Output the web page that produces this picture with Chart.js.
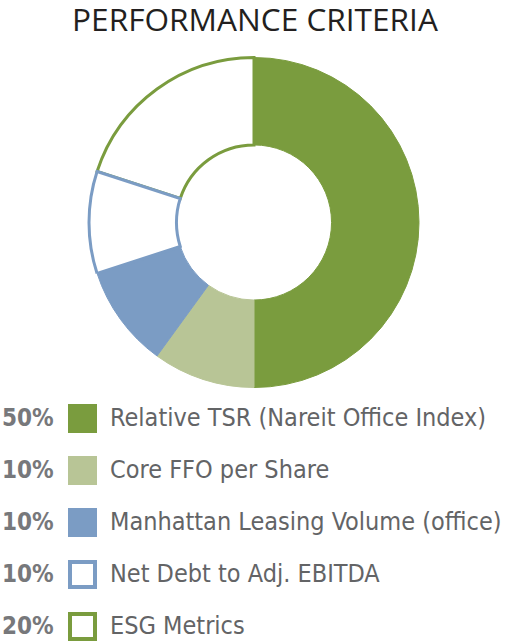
<!DOCTYPE html>
<html>
<head>
<meta charset="utf-8">
<script src="https://cdn.jsdelivr.net/npm/chart.js@4.4.0/dist/chart.umd.min.js"></script>
<style>
  html, body { margin: 0; padding: 0; background: #ffffff; }
  body { width: 510px; height: 643px; position: relative; overflow: hidden; }
  #title { position: absolute; left: 0; top: 0; width: 510px; text-align: center;
    font-family: "Open Sans", sans-serif; font-size: 31.6px; color: #231f20; line-height: 38px; }
  #wrap { position: absolute; left: 0; top: 56px; width: 508px; height: 333px; }
  #legend { position: absolute; left: 0; top: 392px; width: 510px; }
  .row { position: absolute; left: 0; height: 52px; width: 510px; }
  .pct { position: absolute; left: 2px; top: 0; line-height: 52px; font-family: "DejaVu Sans Condensed", sans-serif;
    font-weight: bold; font-size: 24px; color: #77787b; }
  .sw { position: absolute; left: 68px; top: 12px; width: 29px; height: 29px; box-sizing: border-box; }
  .lab { position: absolute; left: 110px; top: 0; line-height: 52px; font-family: "DejaVu Sans Condensed", sans-serif;
    font-size: 25px; color: #636466; white-space: nowrap; }
</style>
</head>
<body>
<div id="title"></div>
<div id="wrap"><canvas id="c"></canvas></div>
<div id="legend"></div>
<script>
const titleText = "PERFORMANCE CRITERIA";
const categories = ["Relative TSR (Nareit Office Index)", "Core FFO per Share", "Manhattan Leasing Volume (office)", "Net Debt to Adj. EBITDA", "ESG Metrics"];
const values = [50, 10, 10, 10, 20];
const pctLabels = ["50%", "10%", "10%", "10%", "20%"];
const fillColors = ["#7a9c3e", "#b8c596", "#7b9cc4", "#ffffff", "#ffffff"];
const edgeColors = ["#7a9c3e", "#b8c596", "#7b9cc4", "#7b9cc4", "#7a9c3e"];
const outlined = [false, false, false, true, true];

document.getElementById('title').textContent = titleText;

// legend
const leg = document.getElementById('legend');
categories.forEach((c, i) => {
  const r = document.createElement('div');
  r.className = 'row';
  r.style.top = (i * 52) + 'px';
  const p = document.createElement('div'); p.className = 'pct'; p.textContent = pctLabels[i];
  const s = document.createElement('div'); s.className = 'sw';
  s.style.background = fillColors[i];
  s.style.border = outlined[i] ? ('4px solid ' + edgeColors[i]) : 'none';
  const l = document.createElement('div'); l.className = 'lab'; l.textContent = c;
  r.appendChild(p); r.appendChild(s); r.appendChild(l);
  leg.appendChild(r);
});

// draw order: start with last slice so that the Net Debt outline is drawn on top
const n = values.length;
const order = [n - 1].concat([...Array(n - 1).keys()]);
const total = values.reduce((a, b) => a + b, 0);
const startRot = 360 * (total - values[n - 1]) / total;

new Chart(document.getElementById('c'), {
  type: 'doughnut',
  data: {
    labels: order.map(i => categories[i]),
    datasets: [{
      data: order.map(i => values[i]),
      backgroundColor: order.map(i => fillColors[i]),
      borderColor: order.map(i => edgeColors[i]),
      borderWidth: order.map(i => outlined[i] ? 3 : 1),
      borderAlign: 'center',
      borderJoinStyle: 'miter'
    }]
  },
  options: {
    responsive: true,
    maintainAspectRatio: false,
    animation: false,
    events: [],
    rotation: startRot,
    cutout: '47%',
    layout: { padding: 0 },
    plugins: { legend: { display: false }, tooltip: { enabled: false }, title: { display: false } }
  }
});
</script>
</body>
</html>
